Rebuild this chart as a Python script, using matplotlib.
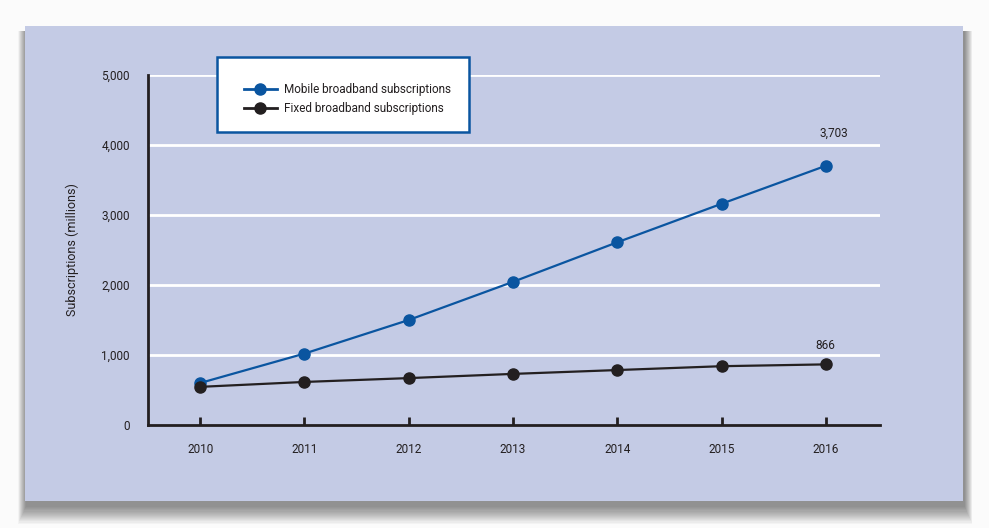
import matplotlib
matplotlib.use('Agg')
import matplotlib.pyplot as plt
from matplotlib.patches import Rectangle
from matplotlib.lines import Line2D
from matplotlib.ticker import FuncFormatter

# Data (millions of subscriptions)
years = [2010, 2011, 2012, 2013, 2014, 2015, 2016]
mobile = [600, 1020, 1500, 2045, 2610, 3160, 3703]
fixed = [545, 615, 670, 730, 785, 840, 866]
series_labels = ['Mobile broadband subscriptions', 'Fixed broadband subscriptions']
y_ticks = [0, 1000, 2000, 3000, 4000, 5000]

plt.rcParams['font.family'] = ['Roboto', 'DejaVu Sans']

W, H = 989, 528
panel_c = '#C4CBE5'
blue = '#0A55A0'
dark = '#231F20'
fs = 8.5

fig = plt.figure(figsize=(W / 100, H / 100), dpi=100)
fig.patch.set_facecolor('#FBFBFB')

def fx(px):
    return px / W

def fy(py):
    return 1 - py / H

# soft drop shadow behind the panel (stacked translucent rects, shifted down)
for g in range(16, 0, -1):
    fig.patches.append(Rectangle((fx(25 - g * 0.5 + 1), fy(501 + g * 1.1 + 5)),
                                 fx(938 + g * 1.0), (475 + g * 1.1) / H,
                                 transform=fig.transFigure, facecolor='black',
                                 alpha=0.03, edgecolor='none', zorder=0))
fig.patches.append(Rectangle((fx(25), fy(501)), fx(938), 475 / H,
                             transform=fig.transFigure, facecolor=panel_c,
                             edgecolor='none', zorder=1))

ax = fig.add_axes([fx(148), fy(425), fx(880 - 148), (425 - 75) / H])
ax.set_facecolor('none')
ax.set_zorder(2)

for yv in y_ticks[1:]:
    ax.axhline(yv, color='white', linewidth=2, zorder=1)

ax.plot(years, mobile, color=blue, linewidth=1.6, marker='o', markersize=8,
        zorder=3, clip_on=False)
ax.plot(years, fixed, color=dark, linewidth=1.6, marker='o', markersize=8,
        zorder=4, clip_on=False)

ax.annotate(f'{mobile[-1]:,}', (years[-1], mobile[-1]), xytext=(6, 19),
            textcoords='offset points', ha='center', va='bottom', fontsize=fs, color=dark)
ax.annotate(f'{fixed[-1]:,}', (years[-1], fixed[-1]), xytext=(0, 9),
            textcoords='offset points', ha='center', va='bottom', fontsize=fs, color=dark)

ax.set_xlim(2009.5, 2016.52)
ax.set_ylim(0, 5000)
ax.set_xticks(years)
ax.set_yticks(y_ticks)
ax.yaxis.set_major_formatter(FuncFormatter(lambda v, p: f'{int(v):,}'))

for s in ['top', 'right']:
    ax.spines[s].set_visible(False)
for s in ['left', 'bottom']:
    ax.spines[s].set_linewidth(2)
    ax.spines[s].set_color(dark)

ax.tick_params(axis='x', direction='in', length=6, width=2, color=dark,
               pad=13, labelsize=fs, labelcolor=dark)
ax.tick_params(axis='y', length=0, pad=13, labelsize=fs, labelcolor=dark)
ax.set_ylabel('Subscriptions (millions)', fontsize=fs + 0.5, color=dark)
ax.yaxis.set_label_coords((79 - 148) / 732, 0.5)

# legend box
fig.patches.append(Rectangle((fx(217), fy(132)), fx(252), 75 / H,
                             transform=fig.transFigure, facecolor='white',
                             edgecolor=blue, linewidth=1.8, zorder=5))
handles = [Line2D([], [], color=blue, linewidth=2, marker='o', markersize=8),
           Line2D([], [], color=dark, linewidth=2, marker='o', markersize=8)]
leg = fig.legend(handles, series_labels, loc='upper left',
                 bbox_to_anchor=(fx(238), fy(77)), frameon=False, fontsize=fs,
                 handlelength=2.8, handletextpad=0.6, labelspacing=0.55,
                 borderpad=0, labelcolor=dark)
leg.set_zorder(6)

fig.savefig('out.png', dpi=100, facecolor=fig.get_facecolor())
